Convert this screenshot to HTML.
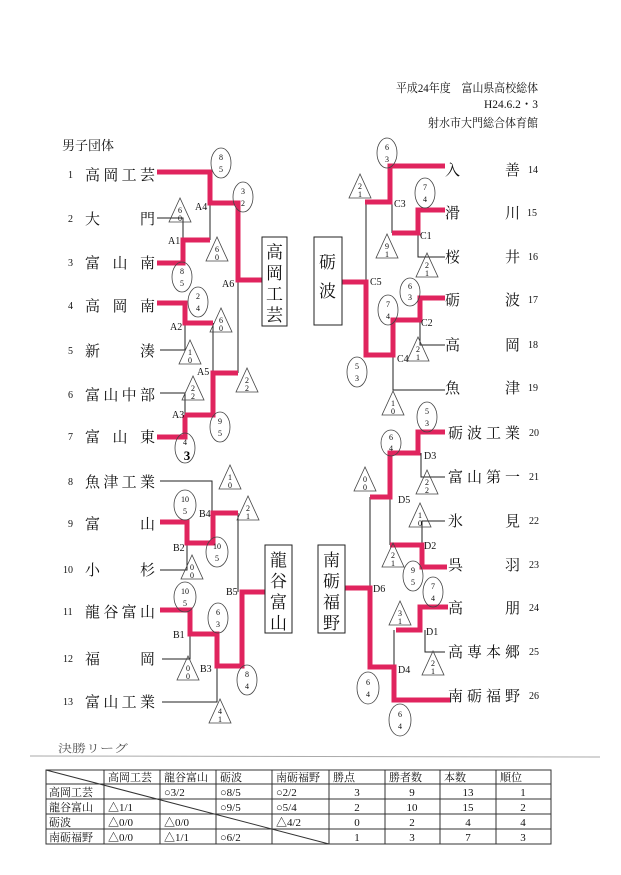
<!DOCTYPE html>
<html><head><meta charset="utf-8"><style>
html,body{margin:0;padding:0;background:#fff;}
svg{display:block;}
text{font-family:"Liberation Serif","Noto Serif CJK SC","Noto Sans CJK JP",serif;fill:#111;}
.n{font-size:15px;}
.num{font-size:10px;}
.s{font-size:8px;font-family:"Liberation Sans",sans-serif;fill:#333;}
.lb{font-size:10px;}
.p{stroke:#e0245e;stroke-width:5;fill:none;stroke-linejoin:miter;}
.k{stroke:#222;stroke-width:1;fill:none;}
.sh{stroke:#444;stroke-width:0.8;fill:none;}
.t{font-size:12px;}
</style></head><body>
<svg width="621" height="875" viewBox="0 0 621 875" xmlns="http://www.w3.org/2000/svg">
<rect width="621" height="875" fill="#fff"/>
<!-- header -->
<text x="396" y="92" class="t" textLength="142" lengthAdjust="spacingAndGlyphs">平成24年度　富山県高校総体</text>
<text x="484" y="108" class="t" textLength="54" lengthAdjust="spacingAndGlyphs">H24.6.2・3</text>
<text x="428" y="127" class="t" textLength="110" lengthAdjust="spacingAndGlyphs">射水市大門総合体育館</text>
<text x="62" y="150" class="t" style="font-size:13px">男子団体</text>

<!-- left names -->
<g class="n">
<text x="85" y="180" textLength="70" lengthAdjust="spacing">高岡工芸</text>
<text x="85" y="224" textLength="70" lengthAdjust="spacing">大　門</text>
<text x="85" y="268" textLength="70" lengthAdjust="spacing">富山南</text>
<text x="85" y="311" textLength="70" lengthAdjust="spacing">高岡南</text>
<text x="85" y="356" textLength="70" lengthAdjust="spacing">新　湊</text>
<text x="85" y="400" textLength="70" lengthAdjust="spacing">富山中部</text>
<text x="85" y="442" textLength="70" lengthAdjust="spacing">富山東</text>
<text x="85" y="487" textLength="70" lengthAdjust="spacing">魚津工業</text>
<text x="85" y="529" textLength="70" lengthAdjust="spacing">富　山</text>
<text x="85" y="575" textLength="70" lengthAdjust="spacing">小　杉</text>
<text x="85" y="617" textLength="70" lengthAdjust="spacing">龍谷富山</text>
<text x="85" y="664" textLength="70" lengthAdjust="spacing">福　岡</text>
<text x="85" y="707" textLength="70" lengthAdjust="spacing">富山工業</text>
</g>
<g class="num">
<text x="68" y="178">1</text><text x="68" y="222">2</text><text x="68" y="266">3</text><text x="68" y="309">4</text><text x="68" y="354">5</text><text x="68" y="398">6</text><text x="68" y="440">7</text><text x="68" y="485">8</text><text x="68" y="527">9</text><text x="63" y="573">10</text><text x="63" y="615">11</text><text x="63" y="662">12</text><text x="63" y="705">13</text>
</g>
<!-- right names -->
<g class="n">
<text x="445" y="175" textLength="75" lengthAdjust="spacing">入　善</text>
<text x="445" y="218" textLength="75" lengthAdjust="spacing">滑　川</text>
<text x="445" y="262" textLength="75" lengthAdjust="spacing">桜　井</text>
<text x="445" y="305" textLength="75" lengthAdjust="spacing">砺　波</text>
<text x="445" y="350" textLength="75" lengthAdjust="spacing">高　岡</text>
<text x="445" y="393" textLength="75" lengthAdjust="spacing">魚　津</text>
<text x="448" y="438" textLength="72" lengthAdjust="spacing">砺波工業</text>
<text x="448" y="482" textLength="72" lengthAdjust="spacing">富山第一</text>
<text x="448" y="526" textLength="72" lengthAdjust="spacing">氷　見</text>
<text x="448" y="570" textLength="72" lengthAdjust="spacing">呉　羽</text>
<text x="448" y="613" textLength="72" lengthAdjust="spacing">高　朋</text>
<text x="448" y="657" textLength="72" lengthAdjust="spacing">高専本郷</text>
<text x="448" y="701" textLength="72" lengthAdjust="spacing">南砺福野</text>
</g>
<g class="num">
<text x="528" y="173">14</text><text x="527" y="216">15</text><text x="528" y="260">16</text><text x="528" y="303">17</text><text x="528" y="348">18</text><text x="528" y="391">19</text><text x="529" y="436">20</text><text x="529" y="480">21</text><text x="529" y="524">22</text><text x="529" y="568">23</text><text x="529" y="611">24</text><text x="529" y="655">25</text><text x="529" y="699">26</text>
</g>

<!-- black lines left -->
<path class="k" d="M157 218H183V263 M210 240V203 M238 280V373 M160 350H185V323 M213 373V323 M160 393H185V415
M160 481H212V513 M238 513V592 M160 570H187V543 M162 659H190V634 M217 666V702H162"/>
<!-- pink left -->
<path class="p" d="M157 172H210V203H238V280H262 M157 263H183V240H210 M157 303H185V323H213 M238 373H213V415H185 M157 437H185V415
M160 522H187V543H213V513H238 M265 592H242V666H217V634H190V610H160"/>
<!-- black lines right -->
<path class="k" d="M366 202V282 M392 202V233 M445 257H418V233 M445 345H420V320 M393 355V390H445
M421 453V477H445 M390 497V545 M370 497V588 M445 521H422V545 M394 667V630 M445 652H425V630"/>
<!-- pink right -->
<path class="p" d="M445 166H390V202H365 M445 210H418V233H392 M342 282H366V355H393V320H420V298H445
M445 432H418V453H390V497H370 M390 545H422V567H447 M345 588H370V667H394V700H450 M396 630H420V607H448"/>

<!-- boxes -->
<g class="k"><rect x="262" y="237" width="25" height="89"/><rect x="314" y="237" width="28" height="88"/><rect x="265" y="545" width="27" height="88"/><rect x="318" y="545" width="27" height="88"/></g>
<g style="font-size:17px">
<text x="266" y="258">高</text><text x="266" y="279">岡</text><text x="266" y="300">工</text><text x="266" y="321">芸</text>
<text x="319" y="268">砺</text><text x="319" y="297">波</text>
<text x="270" y="566">龍</text><text x="270" y="587">谷</text><text x="270" y="608">富</text><text x="270" y="629">山</text>
<text x="323" y="566">南</text><text x="323" y="587">砺</text><text x="323" y="608">福</text><text x="323" y="629">野</text>
</g>

<!-- bracket labels -->
<g class="lb">
<text x="195" y="210">A4</text><text x="168" y="244">A1</text><text x="222" y="287">A6</text><text x="170" y="330">A2</text><text x="197" y="375">A5</text><text x="172" y="418">A3</text>
<text x="199" y="517">B4</text><text x="173" y="551">B2</text><text x="226" y="595">B5</text><text x="173" y="638">B1</text><text x="200" y="672">B3</text>
<text x="394" y="207">C3</text><text x="420" y="239">C1</text><text x="370" y="285">C5</text><text x="421" y="326">C2</text><text x="397" y="362">C4</text>
<text x="424" y="459">D3</text><text x="398" y="503">D5</text><text x="424" y="549">D2</text><text x="373" y="592">D6</text><text x="426" y="635">D1</text><text x="398" y="673">D4</text>
</g>

<!-- circle scores -->
<g class="sh">
<ellipse cx="221" cy="163" rx="10" ry="15"/><ellipse cx="243" cy="197" rx="10" ry="15"/><ellipse cx="182" cy="277" rx="10" ry="15"/><ellipse cx="198" cy="302" rx="10" ry="15"/><ellipse cx="220" cy="427" rx="10" ry="15"/><ellipse cx="185" cy="448" rx="10" ry="15"/>
<ellipse cx="185" cy="505" rx="11" ry="15"/><ellipse cx="217" cy="552" rx="11" ry="15"/><ellipse cx="185" cy="597" rx="11" ry="15"/><ellipse cx="218" cy="618" rx="10" ry="15"/><ellipse cx="247" cy="680" rx="10" ry="15"/>
<ellipse cx="387" cy="153" rx="10" ry="15"/><ellipse cx="425" cy="193" rx="10" ry="15"/><ellipse cx="410" cy="292" rx="10" ry="14"/><ellipse cx="388" cy="310" rx="10" ry="15"/><ellipse cx="357" cy="372" rx="10" ry="15"/>
<ellipse cx="427" cy="417" rx="10" ry="15"/><ellipse cx="391" cy="443" rx="10" ry="13"/><ellipse cx="413" cy="576" rx="10" ry="15"/><ellipse cx="433" cy="592" rx="10" ry="15"/><ellipse cx="368" cy="688" rx="11" ry="16"/><ellipse cx="400" cy="720" rx="11" ry="16"/>
</g>
<!-- triangles -->
<g class="sh">
<path d="M180 198L169 222H191Z"/><path d="M217 237L206 261H228Z"/><path d="M221 308L210 332H232Z"/><path d="M190 340L179 364H201Z"/><path d="M247 368L236 392H258Z"/><path d="M193 376L182 400H204Z"/>
<path d="M230 465L219 489H241Z"/><path d="M248 496L237 520H259Z"/><path d="M192 555L181 579H203Z"/><path d="M188 656L177 680H199Z"/><path d="M220 699L209 723H231Z"/>
<path d="M360 174L349 198H371Z"/><path d="M387 234L376 258H398Z"/><path d="M427 253L416 277H438Z"/><path d="M418 337L407 361H429Z"/><path d="M393 391L382 415H404Z"/>
<path d="M365 467L354 491H376Z"/><path d="M427 470L416 494H438Z"/><path d="M420 503L409 527H431Z"/><path d="M393 543L382 567H404Z"/><path d="M400 601L389 625H411Z"/><path d="M433 651L422 675H444Z"/>
</g>
<g class="s" text-anchor="middle">
<text x="221" y="160">8</text><text x="221" y="172">5</text><text x="243" y="194">3</text><text x="243" y="206">2</text><text x="182" y="274">8</text><text x="182" y="286">5</text><text x="198" y="299">2</text><text x="198" y="311">4</text><text x="220" y="424">9</text><text x="220" y="436">5</text><text x="185" y="445">4</text><text x="187" y="460" style="font-size:13px;font-weight:bold;fill:#000">3</text>
<text x="185" y="502">10</text><text x="185" y="514">5</text><text x="217" y="549">10</text><text x="217" y="561">5</text><text x="185" y="594">10</text><text x="185" y="606">5</text><text x="218" y="615">6</text><text x="218" y="627">3</text><text x="247" y="677">8</text><text x="247" y="689">4</text>
<text x="387" y="150">6</text><text x="387" y="162">3</text><text x="425" y="190">7</text><text x="425" y="202">4</text><text x="410" y="289">6</text><text x="410" y="300">3</text><text x="388" y="307">7</text><text x="388" y="319">4</text><text x="357" y="369">5</text><text x="357" y="381">3</text>
<text x="427" y="414">5</text><text x="427" y="426">3</text><text x="391" y="440">6</text><text x="391" y="451">4</text><text x="413" y="573">9</text><text x="413" y="585">5</text><text x="433" y="589">7</text><text x="433" y="601">4</text><text x="368" y="685">6</text><text x="368" y="697">4</text><text x="400" y="717">6</text><text x="400" y="729">4</text>
<text x="180" y="213">6</text><text x="180" y="221">0</text><text x="217" y="252">6</text><text x="217" y="260">0</text><text x="221" y="323">6</text><text x="221" y="331">0</text><text x="190" y="355">1</text><text x="190" y="363">0</text><text x="247" y="383">2</text><text x="247" y="391">2</text><text x="193" y="391">2</text><text x="193" y="399">2</text>
<text x="230" y="480">1</text><text x="230" y="488">0</text><text x="248" y="511">2</text><text x="248" y="519">1</text><text x="192" y="570">0</text><text x="192" y="578">0</text><text x="188" y="671">0</text><text x="188" y="679">0</text><text x="220" y="714">4</text><text x="220" y="722">1</text>
<text x="360" y="189">2</text><text x="360" y="197">1</text><text x="387" y="249">9</text><text x="387" y="257">1</text><text x="427" y="268">2</text><text x="427" y="276">1</text><text x="418" y="352">2</text><text x="418" y="360">1</text><text x="393" y="406">1</text><text x="393" y="414">0</text>
<text x="365" y="482">0</text><text x="365" y="490">0</text><text x="427" y="485">2</text><text x="427" y="493">2</text><text x="420" y="518">1</text><text x="420" y="526">0</text><text x="393" y="558">2</text><text x="393" y="566">1</text><text x="400" y="616">3</text><text x="400" y="624">1</text><text x="433" y="666">2</text><text x="433" y="674">1</text>
</g>

<!-- final league -->
<text x="58" y="752" style="font-size:11px;fill:#555" textLength="70" lengthAdjust="spacingAndGlyphs">決勝リーグ</text>
<line x1="30" y1="756" x2="600" y2="757" stroke="#aaa" stroke-width="1"/>
<g class="k" style="stroke:#333">
<rect x="46" y="770" width="505" height="74"/>
<path d="M46 784H551 M46 799H551 M46 814H551 M46 829H551 M104 770V844 M160 770V844 M216 770V844 M272 770V844 M329 770V844 M385 770V844 M440 770V844 M496 770V844"/>
<path d="M46 770L329 844"/>
</g>
<rect x="105" y="785" width="54" height="13" fill="#fff" opacity="0"/>
<g style="font-size:11px">
<text x="108" y="781">高岡工芸</text><text x="164" y="781">龍谷富山</text><text x="220" y="781">砺波</text><text x="276" y="781">南砺福野</text><text x="333" y="781">勝点</text><text x="389" y="781">勝者数</text><text x="444" y="781">本数</text><text x="500" y="781">順位</text>
<text x="49" y="796">高岡工芸</text><text x="49" y="811">龍谷富山</text><text x="49" y="826">砺波</text><text x="49" y="841">南砺福野</text>
<text x="164" y="796">○3/2</text><text x="220" y="796">○8/5</text><text x="276" y="796">○2/2</text>
<text x="108" y="811">△1/1</text><text x="220" y="811">○9/5</text><text x="276" y="811">○5/4</text>
<text x="108" y="826">△0/0</text><text x="164" y="826">△0/0</text><text x="276" y="826">△4/2</text>
<text x="108" y="841">△0/0</text><text x="164" y="841">△1/1</text><text x="220" y="841">○6/2</text>
</g>
<g style="font-size:11px" text-anchor="middle">
<text x="357" y="796">3</text><text x="412" y="796">9</text><text x="468" y="796">13</text><text x="523" y="796">1</text>
<text x="357" y="811">2</text><text x="412" y="811">10</text><text x="468" y="811">15</text><text x="523" y="811">2</text>
<text x="357" y="826">0</text><text x="412" y="826">2</text><text x="468" y="826">4</text><text x="523" y="826">4</text>
<text x="357" y="841">1</text><text x="412" y="841">3</text><text x="468" y="841">7</text><text x="523" y="841">3</text>
</g>
</svg>
</body></html>
